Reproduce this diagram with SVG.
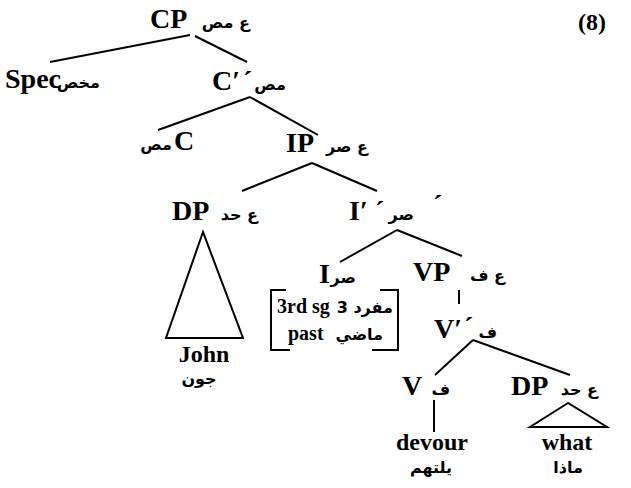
<svg xmlns="http://www.w3.org/2000/svg" width="631" height="488" viewBox="0 0 631 488">
<style>
.l{font-family:"Liberation Serif","Times New Roman",serif;font-weight:bold;font-size:28px;fill:#000}
.w{font-family:"Liberation Serif","Times New Roman",serif;font-weight:bold;font-size:24px;fill:#000}
.b{font-family:"Liberation Serif","Times New Roman",serif;font-weight:bold;font-size:20px;fill:#000}
.a{font-family:"DejaVu Sans",sans-serif;font-weight:bold;font-size:16px;fill:#000}
.p{font-family:"Liberation Serif",serif;font-weight:bold;font-size:24px;fill:#000}
.e{stroke:#000;stroke-width:2;fill:none}
</style>
<rect width="631" height="488" fill="#fff"/>
<g id="edges" class="e">
<line x1="190" y1="35" x2="50" y2="62"/>
<line x1="195" y1="36" x2="247" y2="62"/>
<line x1="250" y1="97" x2="158" y2="130"/>
<line x1="250" y1="97" x2="318" y2="135"/>
<line x1="312" y1="163" x2="242" y2="191"/>
<line x1="312" y1="163" x2="377" y2="191"/>
<line x1="397" y1="230" x2="340" y2="262"/>
<line x1="397" y1="230" x2="462" y2="256"/>
<line x1="459" y1="290" x2="459" y2="304"/>
<line x1="473" y1="340" x2="435" y2="375"/>
<line x1="473" y1="340" x2="570" y2="375"/>
<line x1="434" y1="400" x2="434" y2="432"/>
</g>
<g id="ex"><text class="p" x="578" y="30">(8)</text></g>
<g id="CP"><text class="l" x="150" y="28">CP</text><text class="a" x="250" y="28" text-anchor="end">ع مص</text></g>
<g id="Spec"><text class="l" x="5" y="88">Spec</text><text class="a" x="100" y="88" text-anchor="end">مخص</text></g>
<g id="Cbar"><text class="l" x="212" y="90">C′</text><text class="l" x="243" y="90">´</text><text class="a" x="286" y="90" text-anchor="end">مص</text></g>
<g id="C"><text class="a" x="172" y="150" text-anchor="end">مص</text><text class="l" x="174" y="150">C</text></g>
<g id="IP"><text class="l" x="286" y="152">IP</text><text class="a" x="368" y="152" text-anchor="end">ع صر</text></g>
<g id="DP1"><text class="l" x="172" y="220">DP</text><text class="a" x="258" y="220" text-anchor="end">ع حد</text>
<polygon class="e" points="203,232 166,338 243,338"/>
<text class="w" x="204" y="362" text-anchor="middle">John</text><text class="a" x="199" y="384" text-anchor="middle">جون</text></g>
<g id="Ibar"><text class="l" x="349" y="220">I′</text><text class="l" x="375" y="220">´</text><text class="a" x="414" y="220" text-anchor="end">صر</text><text class="l" x="433" y="214">´</text></g>
<g id="I"><text class="l" x="319" y="283">I</text><text class="a" x="356" y="283" text-anchor="end">صر</text>
<path class="e" d="M286,290 H271 V350 H290 M380,290 H398 V350 H372"/>
<text class="b" x="277" y="313">3rd sg</text><text class="a" x="393" y="313" text-anchor="end">3 مفرد</text>
<text class="b" x="288" y="340">past</text><text class="a" x="383" y="340" text-anchor="end">ماضي</text></g>
<g id="VP"><text class="l" x="413" y="281">VP</text><text class="a" x="505" y="281" text-anchor="end">ع ف</text></g>
<g id="Vbar"><text class="l" x="434" y="338">V′</text><text class="l" x="464" y="336">´</text><text class="a" x="497" y="338" text-anchor="end">ف</text></g>
<g id="V"><text class="l" x="402" y="395">V</text><text class="a" x="450" y="395" text-anchor="end">ف</text>
<text class="w" x="432" y="450" text-anchor="middle">devour</text><text class="a" x="431" y="473" text-anchor="middle">يلتهم</text></g>
<g id="DP2"><text class="l" x="511" y="395">DP</text><text class="a" x="598" y="395" text-anchor="end">ع حد</text>
<polygon class="e" points="568,403 530,427 607,427"/>
<text class="w" x="567" y="450" text-anchor="middle">what</text><text class="a" x="568" y="473" text-anchor="middle">ماذا</text></g>
</svg>
